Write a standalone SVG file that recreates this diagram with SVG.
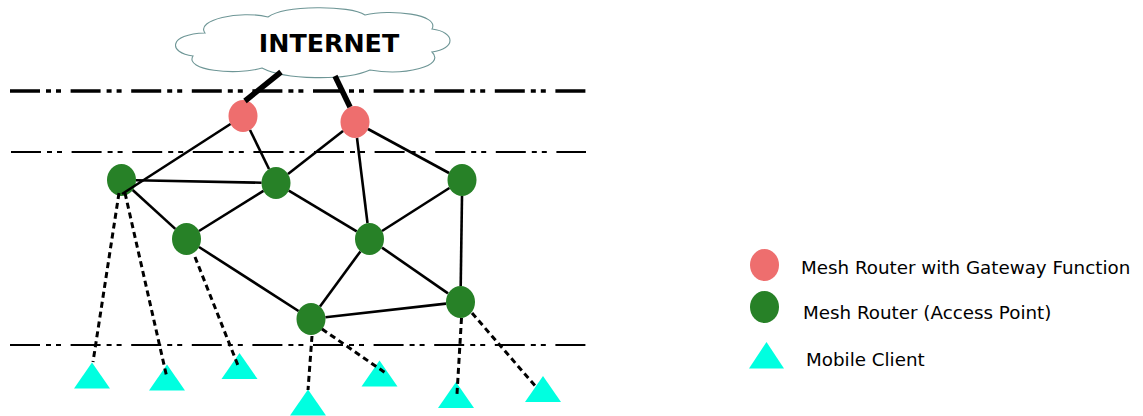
<svg xmlns="http://www.w3.org/2000/svg" width="1143" height="416" viewBox="0 0 1143 416">
<style>
.gw{fill:#EE6E6E}
.ap{fill:#278127}
.mc{fill:#00FFE0}
.sep{fill:none;stroke:#000;stroke-dasharray:30 6 5 5 5 9.6}
.edge{stroke:#000;stroke-width:2.6;fill:none}
.up{stroke:#000;stroke-width:5.5;fill:none}
.wl{stroke:#000;stroke-width:3;stroke-dasharray:6 4;fill:none}
.lbl{font-family:"DejaVu Sans",sans-serif;font-size:18.3px;fill:#000}
</style>
<rect width="1143" height="416" fill="#fff"/>
<g id="separators">
<line class="sep" x1="10" y1="91" x2="586" y2="91" stroke-width="3.4"/>
<line class="sep" x1="11" y1="152" x2="586" y2="152" stroke-width="2"/>
<line class="sep" x1="10" y1="345" x2="586" y2="345" stroke-width="2"/>
</g>
<g id="internet">
<path d="M205,33 C195,20 240,10 268,17 C285,5 350,5 365,15 C390,9 440,14 432,29 C456,32 456,49 432,52 C446,66 405,76 370,70 C345,81 285,80 262,68 C235,76 184,70 193,56 C168,53 168,34 205,33 Z" fill="#fff" stroke="#6E9696" stroke-width="1.1"/>
<text x="329" y="52" text-anchor="middle" font-family="'DejaVu Sans',sans-serif" font-weight="bold" font-size="25.3">INTERNET</text>
</g>
<g id="clients">
<g id="mc1"><polygon class="mc" points="92,362.5 74,388.5 110,388.5"/></g>
<g id="mc2"><polygon class="mc" points="167,364.5 149,390.5 185,390.5"/></g>
<g id="mc3"><polygon class="mc" points="239.5,353 221.5,379 257.5,379"/></g>
<g id="mc4"><polygon class="mc" points="308,389.5 290,415.5 326,415.5"/></g>
<g id="mc5"><polygon class="mc" points="379.5,360.5 361.5,386.5 397.5,386.5"/></g>
<g id="mc6"><polygon class="mc" points="456,382 438,408 474,408"/></g>
<g id="mc7"><polygon class="mc" points="543,376 525,402 561,402"/></g>
</g>
<g id="nodes">
<g id="gw1"><ellipse class="gw" cx="243" cy="116" rx="14.5" ry="16"/></g>
<g id="gw2"><ellipse class="gw" cx="355" cy="122" rx="14.5" ry="16"/></g>
<g id="apA"><ellipse class="ap" cx="121.5" cy="180" rx="14.5" ry="16"/></g>
<g id="apB"><ellipse class="ap" cx="276" cy="183" rx="14.5" ry="16"/></g>
<g id="apC"><ellipse class="ap" cx="462" cy="180" rx="14.5" ry="16"/></g>
<g id="apD"><ellipse class="ap" cx="186.5" cy="239" rx="14.5" ry="16"/></g>
<g id="apE"><ellipse class="ap" cx="369.5" cy="239" rx="14.5" ry="16"/></g>
<g id="apF"><ellipse class="ap" cx="311" cy="319" rx="14.5" ry="16"/></g>
<g id="apG"><ellipse class="ap" cx="460.5" cy="302" rx="14.5" ry="16"/></g>
</g>
<g id="connectors">
<line class="up" x1="281" y1="72" x2="245" y2="101"/>
<line class="up" x1="335" y1="76" x2="350" y2="107"/>
<line class="edge" x1="230.5" y1="124" x2="122" y2="194"/>
<line class="edge" x1="250" y1="130" x2="269" y2="169"/>
<line class="edge" x1="136" y1="180.3" x2="261.5" y2="182.7"/>
<line class="edge" x1="343" y1="131" x2="288" y2="174"/>
<line class="edge" x1="357" y1="138" x2="367.5" y2="223"/>
<line class="edge" x1="368" y1="129" x2="449" y2="173"/>
<line class="edge" x1="132.7" y1="190" x2="175.3" y2="228.9"/>
<line class="edge" x1="263.4" y1="190.9" x2="199" y2="231"/>
<line class="edge" x1="288.8" y1="190.7" x2="356.7" y2="231.3"/>
<line class="edge" x1="449.4" y1="188" x2="382" y2="231"/>
<line class="edge" x1="462" y1="196" x2="460.7" y2="286"/>
<line class="edge" x1="199" y1="247" x2="298.5" y2="311"/>
<line class="edge" x1="360.4" y1="251.4" x2="320" y2="306.6"/>
<line class="edge" x1="382" y1="247.6" x2="448" y2="293.4"/>
<line class="edge" x1="325.5" y1="317.3" x2="446" y2="303.6"/>
<line class="wl" x1="119" y1="193" x2="93" y2="362"/>
<line class="wl" x1="125" y1="193" x2="167" y2="378"/>
<line class="wl" x1="195" y1="257" x2="239" y2="368"/>
<line class="wl" x1="312" y1="336" x2="308" y2="390"/>
<line class="wl" x1="322" y1="329" x2="387" y2="374"/>
<line class="wl" x1="461.5" y1="318" x2="457" y2="394"/>
<line class="wl" x1="472" y1="313" x2="537" y2="388"/>
</g>
<g id="legend">
<g id="legend-gw"><ellipse class="gw" cx="764.5" cy="265" rx="14.5" ry="16"/><text class="lbl" x="801" y="274">Mesh Router with Gateway Function</text></g>
<g id="legend-ap"><ellipse class="ap" cx="764.5" cy="307" rx="14.5" ry="16"/><text class="lbl" x="803" y="319">Mesh Router (Access Point)</text></g>
<g id="legend-mc"><polygon class="mc" points="766.5,342 749,368.5 784,368.5"/><text class="lbl" x="806" y="366">Mobile Client</text></g>
</g>
</svg>
